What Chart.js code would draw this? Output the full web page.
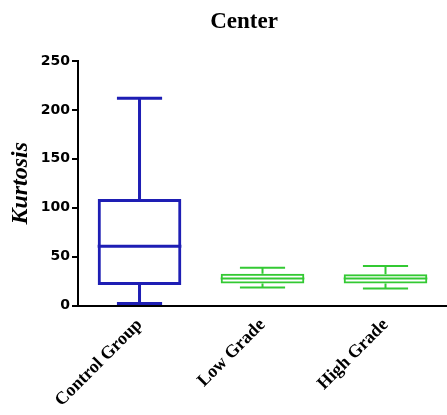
<!DOCTYPE html>
<html>
<head>
<meta charset="utf-8">
<script src="https://cdn.jsdelivr.net/npm/chart.js@4/dist/chart.umd.min.js"></script>
<style>
  html, body { margin: 0; padding: 0; background: #fff; }
  #wrap { width: 447px; height: 415px; }
</style>
</head>
<body>
<div id="wrap"><canvas id="boxChart"></canvas></div>
<script>
const chartTitle = "Center";
const categories = ["Control Group", "Low Grade", "High Grade"];
const mins = [2, 18.5, 17.5];
const q1s = [21, 22.5, 22.5];
const medians = [60.5, 27.5, 27.5];
const q3s = [109, 32.5, 32];
const maxs = [212, 38.5, 40.5];
const colors = ["#1e1eb4", "#33c933", "#33c933"];
const widths = [3, 2, 2];
const yTicks = [0, 50, 100, 150, 200, 250];

// whiskers, caps and median line drawn on top of the floating bars
const boxPlugin = {
    id: "boxExtras",
    afterDatasetsDraw(chart) {
        const ctx = chart.ctx;
        const y = chart.scales.y;
        const meta = chart.getDatasetMeta(0);
        meta.data.forEach((bar, i) => {
            const x = bar.x;
            const half = bar.width / 2;
            const cap = bar.width * 0.27;
            ctx.save();
            ctx.strokeStyle = colors[i];
            ctx.lineWidth = widths[i];
            ctx.beginPath();
            ctx.moveTo(x - half, y.getPixelForValue(medians[i]));
            ctx.lineTo(x + half, y.getPixelForValue(medians[i]));
            ctx.moveTo(x, y.getPixelForValue(q3s[i]));
            ctx.lineTo(x, y.getPixelForValue(maxs[i]));
            ctx.moveTo(x - cap, y.getPixelForValue(maxs[i]));
            ctx.lineTo(x + cap, y.getPixelForValue(maxs[i]));
            ctx.moveTo(x, y.getPixelForValue(q1s[i]));
            ctx.lineTo(x, y.getPixelForValue(mins[i]));
            ctx.moveTo(x - cap, y.getPixelForValue(mins[i]));
            ctx.lineTo(x + cap, y.getPixelForValue(mins[i]));
            ctx.stroke();
            ctx.restore();
        });
    }
};

// title sits a bit left of the plot centre, as in the original figure
const titlePlugin = {
    id: "offsetTitle",
    afterDraw(chart) {
        const ctx = chart.ctx;
        ctx.save();
        ctx.fillStyle = "#000";
        ctx.font = "bold 23px 'Liberation Serif'";
        ctx.textAlign = "center";
        ctx.textBaseline = "middle";
        ctx.fillText(chartTitle, chart.chartArea.left + 166, 22);
        ctx.restore();
    }
};

const ctx = document.getElementById("boxChart").getContext("2d");
new Chart(ctx, {
    type: "bar",
    data: {
        labels: categories,
        datasets: [{
            data: categories.map((c, i) => [q1s[i], q3s[i]]),
            backgroundColor: "rgba(0,0,0,0)",
            borderColor: colors,
            borderWidth: widths,
            borderSkipped: false,
            categoryPercentage: 1,
            barPercentage: 0.68
        }]
    },
    plugins: [boxPlugin, titlePlugin],
    options: {
        responsive: true,
        maintainAspectRatio: false,
        animation: false,
        layout: { padding: { left: 6, right: 0, top: 61, bottom: 2 } },
        plugins: {
            legend: { display: false },
            tooltip: { enabled: false },
            title: { display: false }
        },
        scales: {
            x: {
                offset: true,
                grid: { display: false, drawTicks: true, tickLength: 7, color: "#000" },
                border: { display: true, color: "#000", width: 2 },
                ticks: {
                    color: "#000",
                    minRotation: 45,
                    maxRotation: 45,
                    padding: 2,
                    font: { family: "Liberation Serif", size: 18, weight: "bold" }
                }
            },
            y: {
                min: 0,
                max: 250,
                afterBuildTicks: axis => { axis.ticks = yTicks.map(v => ({ value: v })); },
                grid: { display: true, drawOnChartArea: false, tickLength: 6, color: "#000", lineWidth: 2 },
                border: { display: true, color: "#000", width: 2 },
                ticks: {
                    color: "#000",
                    padding: 2,
                    font: { family: "DejaVu Sans", size: 14, weight: "bold" }
                },
                title: {
                    display: true,
                    text: "Kurtosis",
                    color: "#000",
                    font: { family: "Liberation Serif", size: 24, style: "italic", weight: "bold" },
                    padding: { top: 0, bottom: 4 }
                }
            }
        }
    }
});
</script>
</body>
</html>
